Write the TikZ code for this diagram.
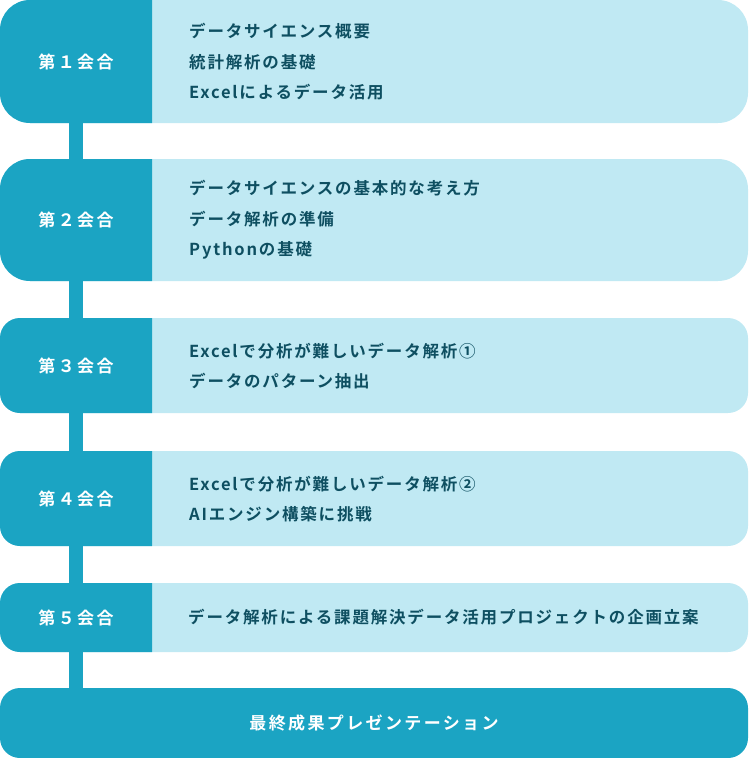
\documentclass[tikz,border=0pt]{standalone}
\usepackage{fontspec}
\setmainfont{Noto Sans CJK JP}[LetterSpace=8]
\newfontfamily\jpmed{Noto Sans CJK JP Bold}[LetterSpace=11]
\newfontfamily\jpbold{Noto Sans CJK JP Bold}[LetterSpace=14]
\definecolor{teal}{HTML}{1BA4C3}
\definecolor{paleteal}{HTML}{C0E9F3}
\definecolor{inkteal}{HTML}{0E4F61}
\tikzset{
  session/.style={minimum width=152pt,inner sep=0pt,font=\jpbold\fontsize{17}{17}\selectfont,text=white},
  topics/.style={anchor=west,align=left,inner sep=0pt,font=\jpmed\fontsize{16.5}{30.5}\selectfont,text=inkteal},
  link/.style={draw=teal,line width=14pt}
}
\begin{document}
\begin{tikzpicture}[x=1pt,y=-1pt]
\useasboundingbox (0,0) rectangle (748,758);

% Row panels: light band, dark head on the left
\fill[paleteal,rounded corners=30pt] (0,0) rectangle (748,123);
\begin{scope}
  \clip (0,0) rectangle (152,123);
  \fill[teal,rounded corners=30pt] (0,0) rectangle (748,123);
\end{scope}
\fill[paleteal,rounded corners=30pt] (0,159) rectangle (748,281);
\begin{scope}
  \clip (0,159) rectangle (152,281);
  \fill[teal,rounded corners=30pt] (0,159) rectangle (748,281);
\end{scope}
\fill[paleteal,rounded corners=20pt] (0,318) rectangle (748,413);
\begin{scope}
  \clip (0,318) rectangle (152,413);
  \fill[teal,rounded corners=20pt] (0,318) rectangle (748,413);
\end{scope}
\fill[paleteal,rounded corners=20pt] (0,451) rectangle (748,546);
\begin{scope}
  \clip (0,451) rectangle (152,546);
  \fill[teal,rounded corners=20pt] (0,451) rectangle (748,546);
\end{scope}
\fill[paleteal,rounded corners=20pt] (0,583) rectangle (748,652);
\begin{scope}
  \clip (0,583) rectangle (152,652);
  \fill[teal,rounded corners=20pt] (0,583) rectangle (748,652);
\end{scope}
\fill[teal,rounded corners=20pt] (0,688) rectangle (748,758);

% Session heads
\node[session,minimum height=123pt] (s1) at (76,61.5) {第１会合};
\node[session,minimum height=122pt] (s2) at (76,220) {第２会合};
\node[session,minimum height=95pt] (s3) at (76,365.5) {第３会合};
\node[session,minimum height=95pt] (s4) at (76,498.5) {第４会合};
\node[session,minimum height=69pt] (s5) at (76,617.5) {第５会合};
\node[session,minimum width=748pt,minimum height=70pt] (final) at (374,723) {最終成果プレゼンテーション};

% Topics
\node[topics] (t1) at (189,62) {データサイエンス概要\\統計解析の基礎\\Excelによるデータ活用};
\node[topics] (t2) at (189,220) {データサイエンスの基本的な考え方\\データ解析の準備\\Pythonの基礎};
\node[topics] (t3) at (189,366) {Excelで分析が難しいデータ解析①\\データのパターン抽出};
\node[topics] (t4) at (189,499) {Excelで分析が難しいデータ解析②\\AIエンジン構築に挑戦};
\node[topics] (t5) at (188,617.5) {データ解析による課題解決データ活用プロジェクトの企画立案};

% Links between sessions
\draw[link] (s1.south) -- (s2.north);
\draw[link] (s2.south) -- (s3.north);
\draw[link] (s3.south) -- (s4.north);
\draw[link] (s4.south) -- (s5.north);
\draw[link] (s5.south) -- (s5.south |- final.north);

\end{tikzpicture}
\end{document}
